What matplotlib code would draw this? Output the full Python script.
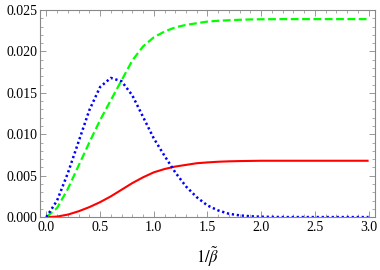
import matplotlib
matplotlib.use("Agg")
import matplotlib.pyplot as plt
from matplotlib.ticker import MultipleLocator, FormatStrFormatter

plt.rcParams['font.family'] = ['Liberation Serif', 'DejaVu Serif']
plt.rcParams['mathtext.fontset'] = 'stix'

# inverse temperature axis samples
x_vals = [0.0, 0.1, 0.2, 0.3, 0.4, 0.5, 0.6, 0.7, 0.8, 0.9, 1.0, 1.1, 1.2, 1.3,
          1.4, 1.5, 1.6, 1.7, 1.8, 1.9, 2.0, 2.2, 2.4, 2.6, 2.8, 3.0]

green_vals = [0.0, 0.0011, 0.0034, 0.0062, 0.0090, 0.0117, 0.0141, 0.0165, 0.0189,
              0.0206, 0.0217, 0.0224, 0.0229, 0.0232, 0.0234, 0.0236, 0.0237, 0.02376,
              0.02382, 0.02386, 0.02388, 0.0239, 0.0239, 0.0239, 0.0239, 0.0239]

blue_vals = [0.0, 0.0020, 0.0053, 0.0091, 0.0129, 0.0157, 0.0168, 0.0164, 0.0147,
             0.0121, 0.0095, 0.0074, 0.0054, 0.0037, 0.0024, 0.0014, 0.0008, 0.0004,
             0.0002, 0.0001, 0.00004, 0.0, 0.0, 0.0, 0.0, 0.0]

red_vals = [0.0, 0.00006, 0.0003, 0.0007, 0.0012, 0.0018, 0.0025, 0.0033, 0.0041,
            0.0048, 0.0054, 0.0058, 0.0061, 0.0063, 0.0065, 0.0066, 0.00668, 0.00673,
            0.00676, 0.00678, 0.0068, 0.0068, 0.0068, 0.0068, 0.0068, 0.0068]

x_label = r'$1/\tilde{\beta}$'

fig = plt.figure(figsize=(3.8, 2.7), dpi=100)
ax = fig.add_axes([0.105, 0.196, 0.882, 0.767])

ax.plot(x_vals, red_vals, color=(1, 0, 0), lw=1.5, solid_capstyle='butt')
ax.plot(x_vals, green_vals, color=(0, 1, 0), lw=1.6, linestyle=(0, (3.5, 1.6)))
ax.plot(x_vals, blue_vals, color=(0, 0, 1), lw=1.8, linestyle=(0, (0.9, 1.1)))

ax.set_xlim(-0.06, 3.06)
ax.set_ylim(0, 0.025)

ax.xaxis.set_major_locator(MultipleLocator(0.5))
ax.xaxis.set_minor_locator(MultipleLocator(0.1))
ax.yaxis.set_major_locator(MultipleLocator(0.005))
ax.yaxis.set_minor_locator(MultipleLocator(0.001))
ax.xaxis.set_major_formatter(FormatStrFormatter('%.1f'))
ax.yaxis.set_major_formatter(FormatStrFormatter('%.3f'))

gray = '#888888'
for s in ax.spines.values():
    s.set_color(gray)
    s.set_linewidth(0.8)
ax.tick_params(which='both', direction='in', top=True, right=True, color=gray,
               labelsize=10, labelcolor='black')
ax.tick_params(which='major', length=4, width=0.6)
ax.tick_params(which='minor', length=2, width=0.5)
ax.tick_params(axis='x', pad=3)
ax.tick_params(axis='y', pad=2)

ax.set_xlabel(x_label, fontsize=12, labelpad=8)

fig.savefig('out.png', dpi=100)
